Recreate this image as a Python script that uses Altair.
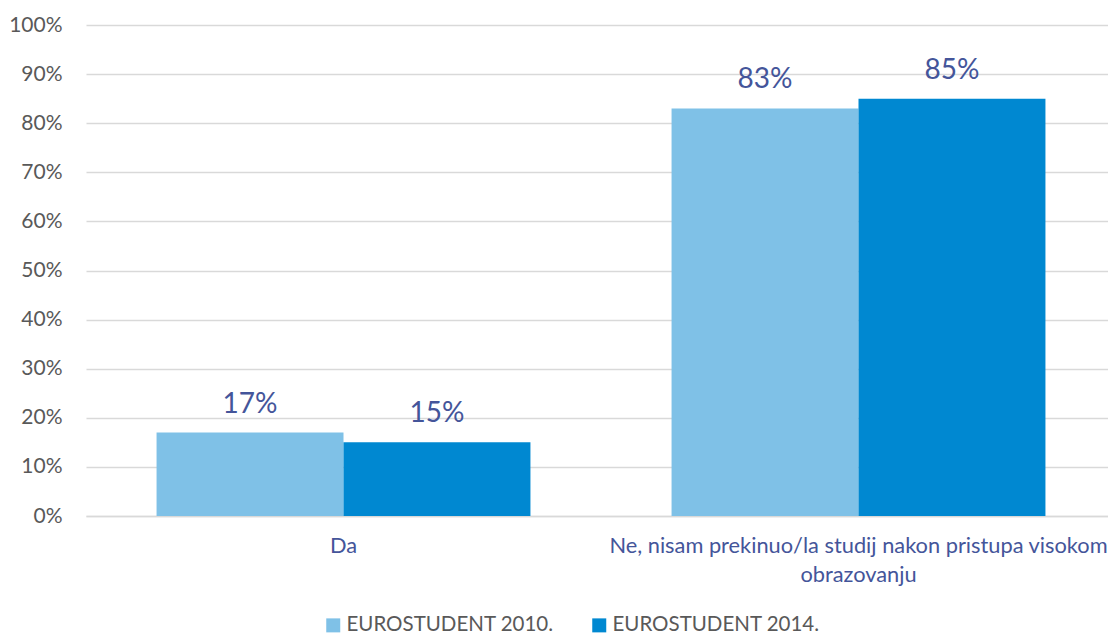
import altair as alt
import pandas as pd

categories = ["Da", "Ne, nisam prekinuo/la studij nakon pristupa visokom\nobrazovanju"]
series = ["EUROSTUDENT 2010.", "EUROSTUDENT 2014."]
values_2010 = [0.17, 0.83]
values_2014 = [0.15, 0.85]
colors = ["#7FC1E7", "#0088D1"]
y_ticks = [0, 0.1, 0.2, 0.3, 0.4, 0.5, 0.6, 0.7, 0.8, 0.9, 1.0]

rows = []
for s, vals in zip(series, [values_2010, values_2014]):
    for c, v in zip(categories, vals):
        rows.append({"cat": c, "series": s, "value": v})
df = pd.DataFrame(rows)

FONT = "Lato"
LABEL_BLUE = "#44559A"
GRAY = "#595959"

x_enc = alt.X(
    "cat:N",
    sort=categories,
    scale=alt.Scale(paddingInner=0.274, paddingOuter=0.137, range=[0, 1030]),
    axis=alt.Axis(
        title=None,
        labelAngle=0,
        labelExpr="split(datum.label, '\\n')",
        labelFont=FONT,
        labelFontSize=21.8,
        labelColor=LABEL_BLUE,
        labelPadding=19,
        labelLineHeight=29,
        labelLimit=0,
        ticks=False,
        domainColor="#D9D9D9",
        domainWidth=1.5,
        grid=False,
    ),
)
y_enc = alt.Y(
    "value:Q",
    scale=alt.Scale(domain=[0, 1], nice=False),
    axis=alt.Axis(
        title=None,
        values=y_ticks,
        format=".0%",
        labelFont=FONT,
        labelFontSize=21,
        labelColor=GRAY,
        labelPadding=24,
        ticks=False,
        domain=False,
        gridColor="#D9D9D9",
        gridWidth=1.5,
    ),
)
color_enc = alt.Color(
    "series:N",
    sort=series,
    scale=alt.Scale(domain=series, range=colors),
    legend=alt.Legend(
        title=None,
        orient="none",
        direction="horizontal",
        legendX=237,
        legendY=590,
        symbolType="square",
        symbolSize=196,
        symbolStrokeWidth=0,
        labelFont=FONT,
        labelFontSize=20.5,
        labelColor=GRAY,
        labelOffset=3,
        labelLimit=0,
        columnPadding=35,
    ),
)

base = alt.Chart(df).encode(
    x=x_enc,
    xOffset=alt.XOffset("series:N", sort=series, scale=alt.Scale(paddingInner=0, paddingOuter=0)),
    y=y_enc,
)

bars = base.mark_bar().encode(color=color_enc)
labels = base.mark_text(
    font=FONT, fontSize=28, color=LABEL_BLUE, baseline="alphabetic", dy=-20
).encode(text=alt.Text("value:Q", format=".0%"))

chart = (
    (bars + labels)
    .properties(
        width=1022,
        height=491,
        autosize=alt.AutoSizeParams(type="none"),
        padding={"left": 78, "top": 17, "right": 0, "bottom": 122},
    )
    .configure_view(stroke=None)
)

chart.save("out.html", embed_options={"renderer": "svg", "actions": False})
